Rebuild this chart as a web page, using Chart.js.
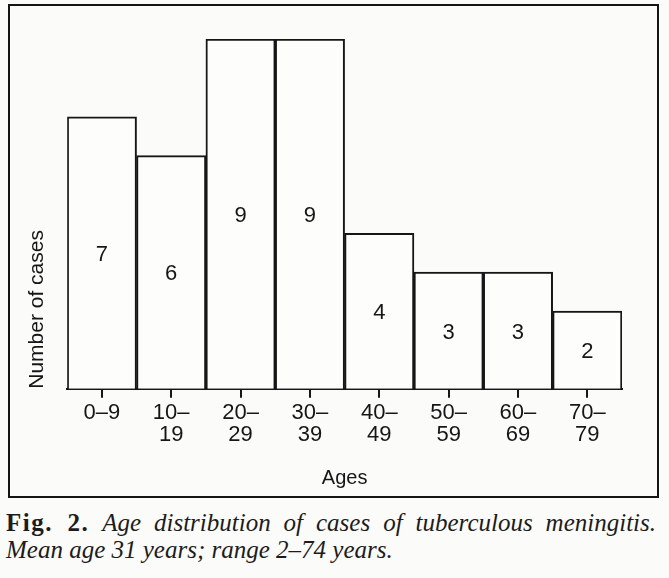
<!DOCTYPE html>
<html>
<head>
<meta charset="utf-8">
<script src="https://cdn.jsdelivr.net/npm/chart.js@4.4.0/dist/chart.umd.min.js"></script>
<style>
  html, body { margin: 0; padding: 0; background: #fbfbf9; }
  body { width: 669px; height: 578px; position: relative; overflow: hidden; }
  #frame { position: absolute; left: 8px; top: 4px; width: 647px; height: 490px; border: 2px solid #151515; }
  #box { position: absolute; left: 0; top: 0; width: 669px; height: 500px; }
  #caption { position: absolute; left: 6px; top: 509px; width: 650px; font-family: "Liberation Serif", "DejaVu Serif", serif; font-size: 25px; line-height: 27px; color: #1c1c1c; }
  #caption .l1 { display: block; text-align: justify; text-align-last: justify; }
  #caption b { font-style: normal; letter-spacing: 1.5px; }
  #caption i { font-style: italic; }
</style>
</head>
<body>
<div id="frame"></div>
<div id="box"><canvas id="ageChart"></canvas></div>
<div id="caption"><span class="l1"><b>Fig. 2.</b> <i>Age distribution of cases of tuberculous meningitis.</i></span><i>Mean age 31 years; range 2–74 years.</i></div>
<script>
// возрастные группы и число случаев
const ageGroups = ['0–9', ['10–', '19'], ['20–', '29'], ['30–', '39'], ['40–', '49'], ['50–', '59'], ['60–', '69'], ['70–', '79']];
const caseCounts = [7, 6, 9, 9, 4, 3, 3, 2];
const yMax = 9;

const ink = '#161616';
const sans = 'Liberation Sans, Arial, sans-serif';

// цифры в середине столбиков
const insideLabels = {
    id: 'insideLabels',
    afterDatasetsDraw(chart) {
        const ctx = chart.ctx;
        const meta = chart.getDatasetMeta(0);
        ctx.save();
        ctx.fillStyle = ink;
        ctx.font = '22px ' + sans;
        ctx.textAlign = 'center';
        ctx.textBaseline = 'middle';
        meta.data.forEach((bar, i) => {
            const p = bar.getProps(['x', 'y', 'base'], true);
            ctx.fillText(String(caseCounts[i]), p.x, (p.y + p.base) / 2 + 2);
        });
        ctx.restore();
    }
};

const ctx = document.getElementById('ageChart').getContext('2d');
new Chart(ctx, {
    type: 'bar',
    data: {
        labels: ageGroups,
        datasets: [{
            data: caseCounts,
            backgroundColor: '#fdfdfb',
            borderColor: ink,
            borderWidth: 2,
            categoryPercentage: 1,
            barPercentage: 1
        }]
    },
    options: {
        responsive: true,
        maintainAspectRatio: false,
        animation: false,
        layout: { padding: { left: 20, right: 47, top: 39, bottom: 10 } },
        plugins: {
            legend: { display: false },
            tooltip: { enabled: false }
        },
        scales: {
            x: {
                grid: {
                    display: true,
                    drawOnChartArea: false,
                    drawTicks: true,
                    tickLength: 9,
                    offset: false,
                    color: ink,
                    lineWidth: 2
                },
                border: { display: true, color: ink, width: 2 },
                ticks: {
                    color: ink,
                    padding: 5,
                    maxRotation: 0,
                    autoSkip: false,
                    font: { family: sans, size: 22, lineHeight: 0.96 }
                },
                title: {
                    display: true,
                    text: 'Ages',
                    color: ink,
                    font: { family: sans, size: 20 },
                    padding: { top: 16, bottom: 0 }
                }
            },
            y: {
                min: 0,
                max: yMax,
                grid: { display: false, drawTicks: false, tickLength: 0 },
                border: { display: false },
                ticks: { display: false },
                title: {
                    display: true,
                    text: 'Number of cases',
                    align: 'start',
                    color: ink,
                    font: { family: sans, size: 21 },
                    padding: { top: 5, bottom: 17 }
                }
            }
        }
    },
    plugins: [insideLabels]
});
</script>
</body>
</html>
